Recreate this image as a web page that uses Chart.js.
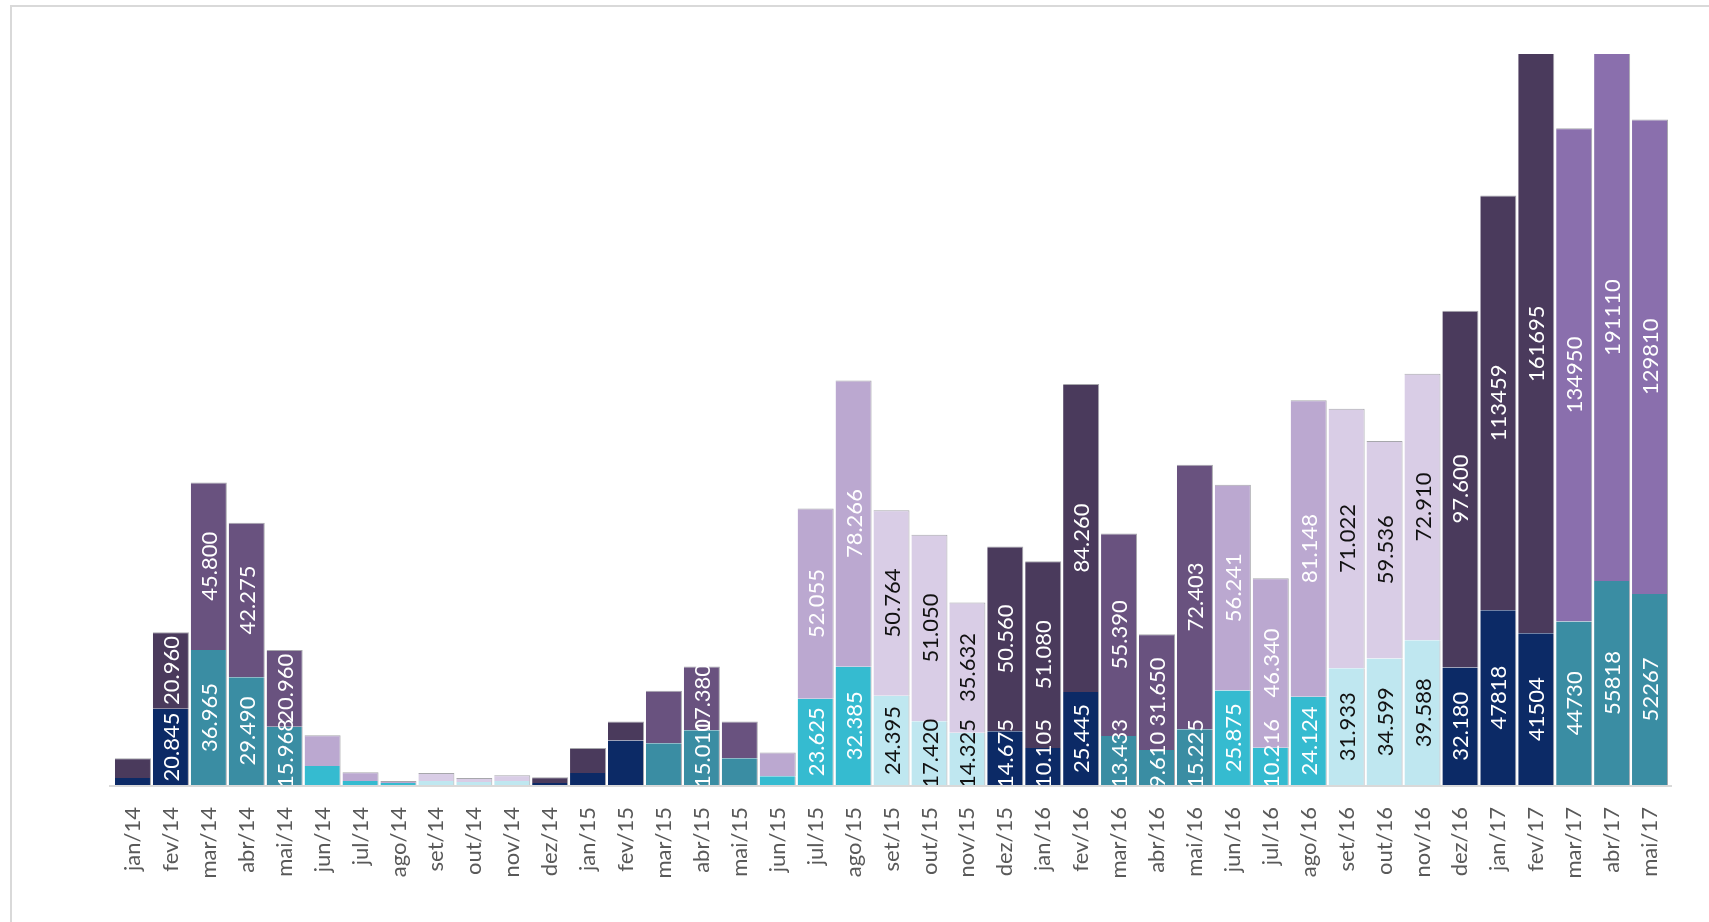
<!DOCTYPE html>
<html lang="pt-BR">
<head>
<meta charset="utf-8">
<title>Vendas mensais</title>
<script src="https://cdn.jsdelivr.net/npm/chart.js@4.4.1/dist/chart.umd.min.js"></script>
<style>
  html, body { margin: 0; padding: 0; background: #ffffff; }
  canvas { display: block; }
</style>
</head>
<body>
<canvas id="salesChart" width="1709" height="922"></canvas>
<script>
// months shown on the x axis
const months = [
  'jan/14', 'fev/14', 'mar/14', 'abr/14', 'mai/14', 'jun/14', 'jul/14', 'ago/14', 'set/14', 'out/14', 'nov/14', 'dez/14',
  'jan/15', 'fev/15', 'mar/15', 'abr/15', 'mai/15', 'jun/15', 'jul/15', 'ago/15', 'set/15', 'out/15', 'nov/15', 'dez/15',
  'jan/16', 'fev/16', 'mar/16', 'abr/16', 'mai/16', 'jun/16', 'jul/16', 'ago/16', 'set/16', 'out/16', 'nov/16', 'dez/16',
  'jan/17', 'fev/17', 'mar/17', 'abr/17', 'mai/17'
];

// lower part of each bar
const baseValues = [
  1900, 20845, 36965, 29490, 15968, 5200, 1100, 550, 1100, 800, 1100, 550,
  3300, 12200, 11400, 15010, 7300, 2400, 23625, 32385, 24395, 17420, 14325, 14675,
  10105, 25445, 13433, 9610, 15225, 25875, 10216, 24124, 31933, 34599, 39588, 32180,
  47818, 41504, 44730, 55818, 52267
];

// upper part of each bar
const topValues = [
  5400, 20960, 45800, 42275, 20960, 8400, 2400, 550, 2200, 1100, 1600, 1600,
  6800, 5200, 14400, 17380, 10100, 6500, 52055, 78266, 50764, 51050, 35632, 50560,
  51080, 84260, 55390, 31650, 72403, 56241, 46340, 81148, 71022, 59536, 72910, 97600,
  113459, 161695, 134950, 191110, 129810
];

// months whose bars carry value labels
const labelledMonths = [
  'fev/14', 'mar/14', 'abr/14', 'mai/14', 'abr/15',
  'jul/15', 'ago/15', 'set/15', 'out/15', 'nov/15', 'dez/15',
  'jan/16', 'fev/16', 'mar/16', 'abr/16', 'mai/16', 'jun/16', 'jul/16', 'ago/16', 'set/16', 'out/16', 'nov/16', 'dez/16',
  'jan/17', 'fev/17', 'mar/17', 'abr/17', 'mai/17'
];

const yMax = 200000;

// colours by season: summer, autumn, winter, spring
const baseColors = ['#0c2a66', '#3a8da3', '#35bbd0', '#bfe7f0'];
const topColors = ['#4a3a5c', '#69527f', '#bba8d0', '#d9cde6'];
const labelColors = ['#ffffff', '#ffffff', '#ffffff', '#111111'];

function season(i) {
  const m = i % 12;
  if (m === 11 || m <= 1) return 0;
  if (m <= 4) return 1;
  if (m <= 7) return 2;
  return 3;
}

function topColor(i) {
  // 2017 autumn bars are a lighter purple
  if (i >= 36 && season(i) === 1) return '#8a6fad';
  return topColors[season(i)];
}

function formatValue(v, i) {
  if (i >= 36) return String(v);
  return v.toLocaleString('pt-BR');
}

// value labels written sideways in the middle of each visible segment,
// pushed up when they would run well below the axis
const barLabels = {
  id: 'barLabels',
  afterDatasetsDraw(chart) {
    const ctx = chart.ctx;
    const area = chart.chartArea;
    ctx.save();
    ctx.beginPath();
    ctx.rect(area.left, area.top, area.right - area.left, area.bottom - area.top);
    ctx.clip();
    ctx.font = '22px Lato';
    ctx.textAlign = 'center';
    ctx.textBaseline = 'middle';
    chart.data.datasets.forEach((ds, d) => {
      chart.getDatasetMeta(d).data.forEach((bar, i) => {
        if (!labelledMonths.includes(months[i])) return;
        const text = formatValue(ds.data[i], i);
        const half = ctx.measureText(text).width / 2;
        const top = Math.max(bar.y, area.top);
        const bottom = Math.min(bar.base, area.bottom);
        let mid = (top + bottom) / 2;
        if (mid + half > area.bottom + 3) mid = area.bottom + 3 - half;
        ctx.save();
        ctx.translate(bar.x, mid);
        ctx.rotate(-Math.PI / 2);
        ctx.fillStyle = labelColors[season(i)];
        ctx.fillText(text, 0, 1);
        ctx.restore();
      });
    });
    ctx.restore();
  }
};

// light grey frame around the chart and a slightly longer axis line
const frame = {
  id: 'frame',
  beforeDraw(chart) {
    const ctx = chart.ctx;
    ctx.save();
    ctx.strokeStyle = '#d9d9d9';
    ctx.lineWidth = 2;
    ctx.beginPath();
    ctx.moveTo(11, 922);
    ctx.lineTo(11, 6);
    ctx.lineTo(1709, 6);
    ctx.stroke();
    const y = chart.chartArea.bottom + 1;
    ctx.beginPath();
    ctx.moveTo(chart.chartArea.left - 5, y);
    ctx.lineTo(chart.chartArea.right + 3, y);
    ctx.stroke();
    ctx.restore();
  }
};

const ctx = document.getElementById('salesChart').getContext('2d');
const salesChart = new Chart(ctx, {
  type: 'bar',
  data: {
    labels: months,
    datasets: [{
      data: baseValues,
      backgroundColor: baseValues.map((v, i) => baseColors[season(i)]),
      borderColor: 'rgba(60, 60, 70, 0.45)',
      borderWidth: { left: 0, right: 1, top: 0, bottom: 0 },
      borderSkipped: false,
      barPercentage: 0.95,
      categoryPercentage: 1
    }, {
      data: topValues,
      backgroundColor: topValues.map((v, i) => topColor(i)),
      borderColor: 'rgba(60, 60, 70, 0.45)',
      borderWidth: { left: 0, right: 1, top: 1, bottom: 0 },
      borderSkipped: false,
      barPercentage: 0.95,
      categoryPercentage: 1
    }]
  },
  options: {
    responsive: false,
    animation: false,
    layout: {
      padding: { left: 114, right: 40, top: 54, bottom: 0 }
    },
    plugins: {
      legend: { display: false },
      tooltip: { enabled: false }
    },
    scales: {
      x: {
        stacked: true,
        grid: { display: false },
        border: { display: false },
        ticks: {
          autoSkip: false,
          minRotation: 90,
          maxRotation: 90,
          padding: 14,
          color: '#595959',
          font: { family: 'Lato', size: 22 }
        },
        afterFit(scale) {
          scale.height = 137;
        }
      },
      y: {
        stacked: true,
        display: false,
        min: 0,
        max: yMax
      }
    }
  },
  plugins: [frame, barLabels]
});
</script>
</body>
</html>
